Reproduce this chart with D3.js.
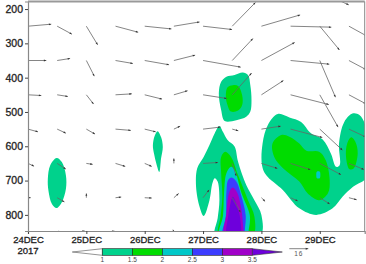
<!DOCTYPE html>
<html>
<head>
<meta charset="utf-8">
<script src="https://cdn.jsdelivr.net/npm/d3@7"></script>
<style>
  html, body { margin: 0; padding: 0; background: #fff; }
  svg { display: block; }
  text { font-family: "Liberation Sans", Arial, sans-serif; }
</style>
</head>
<body>
<div id="chart"></div>
<script>
// Axis labels
var dayTicks = [24, 25, 26, 27, 28, 29];
var dayLabels = ["24DEC", "25DEC", "26DEC", "27DEC", "28DEC", "29DEC"];
var levelTicks = [200, 300, 400, 500, 600, 700, 800];
var yearLabel = "2017";

// Wind vectors, one value per 12 h from 24 DEC 00
var levels = [150, 250, 350, 450, 550, 650, 750, 850];
var uWind = [
  [null, null, null, null, null, null, null, null, null, null, 24.4, null],
  [19.6, 12.4, 9.5, 19.1, 22.5, 21.6, 24.4, 19.6, 32.6, 34.3, 16.6, 15.2],
  [15.4, 10.9, 6.7, 14.6, 20.5, 17.9, 31.7, 17.4, 28, 32.6, 13.2, 14.3],
  [11.2, 9, 6.1, 13.7, 14.6, 11.5, 20, 16.3, 18.5, 32.2, 15.4, 14.3],
  [8.4, 7.3, 7.3, 12.9, 9.3, 5.3, 14.6, 5.1, 16.3, 26.7, 19.1, 14.3],
  [5.1, 7.3, 5.3, 8.2, 5.9, 0, 12.6, 3.4, 13.5, 16.8, 17.9, 12.6],
  [2.3, 6.1, 0, 4.8, 5.9, 4, 5.1, 7, 3.1, 6.1, 8.4, 6.5],
  [null, 1, -3.6, -3, null, -0.8, null, null, null, null, null, null]
];
var vWind = [
  [null, null, null, null, null, null, null, null, null, null, -10.9, null],
  [1.7, -6.7, -15.7, -5.1, -2.3, 3.6, -2.8, 20, 9.5, -0.8, -20, -8.4],
  [0, 1.7, -13.2, -2.5, -3.6, 4.5, -5.6, 18.5, 15.2, -3.1, -30.9, -7.6],
  [-0.6, -1.4, -7.8, 0.8, -3.6, 3.4, -3.1, 18.3, 12, -8.2, -27.2, -7.6],
  [-2.3, -3.4, -4.2, -1.1, -2.3, 2.5, 1.7, -1.4, 2.5, -7, -17.7, -6.7],
  [-2.3, -4.8, -0.8, -2.5, -2.5, 4.2, 0.8, -10.7, -4.2, -5.3, -9.5, -5.1],
  [0, -3.6, 3.6, 0.6, -0.3, 3.6, 6.7, -12.4, -3.1, -2.8, -5.3, -1.7],
  [null, 1, 1, 1, null, 2, null, null, null, null, null, null]
];
var refVector = 16;

// Shaded contours as [day, hPa] outlines
var level1a = [[24.49,634],[24.58,646],[24.65,685],[24.65,724],[24.58,763],[24.49,780],[24.41,768],[24.35,729],[24.34,695],[24.38,656]];
var level1b = [[26.22,556],[26.28,573],[26.31,602],[26.28,636],[26.25,675],[26.20,651],[26.16,622],[26.14,597],[26.17,570]];
var level1c = [[27.68,385],[27.77,392],[27.81,422],[27.83,465],[27.81,499],[27.74,514],[27.57,524],[27.37,526],[27.31,494],[27.27,446],[27.31,412],[27.40,397],[27.54,392]];
var level1d = [[27.28,541],[27.34,558],[27.42,582],[27.54,601],[27.60,645],[27.74,713],[27.88,757],[28.00,800],[27.98,860],[27.21,860],[27.25,810],[27.28,757],[27.25,703],[27.20,693],[27.16,708],[27.11,757],[27.01,803],[26.94,776],[26.88,718],[26.90,664],[27.01,631],[27.11,596],[27.20,562]];
var level1e = [[28.28,506],[28.48,516],[28.68,529],[28.85,562],[29.05,580],[29.19,621],[29.28,660],[29.34,655],[29.33,592],[29.42,529],[29.57,504],[29.68,509],[29.78,538],[29.85,611],[29.82,689],[29.57,718],[29.39,747],[29.22,781],[28.94,800],[28.65,781],[28.37,728],[28.08,684],[28.01,655],[28.02,592],[28.11,538]];
var level15c = [[27.51,422],[27.60,424],[27.67,451],[27.67,480],[27.60,496],[27.48,499],[27.41,475],[27.39,451],[27.42,428]];
var level15d = [[27.38,616],[27.48,631],[27.60,684],[27.77,757],[27.88,805],[27.85,860],[27.27,860],[27.30,805],[27.33,747],[27.31,679],[27.31,631]];
var level15e = [[28.34,567],[28.48,572],[28.65,592],[28.77,613],[28.99,616],[29.10,640],[29.17,698],[29.14,737],[28.99,757],[28.79,737],[28.65,703],[28.37,664],[28.22,631],[28.19,592]];
var level15f = [[29.54,574],[29.61,587],[29.65,621],[29.58,665],[29.51,667],[29.45,631],[29.47,592]];
var level2d = [[27.48,660],[27.54,669],[27.66,737],[27.80,800],[27.79,835],[27.74,860],[27.28,860],[27.34,805],[27.36,737],[27.40,679]];
var level2e = [[28.95,674],[29.0,674],[29.01,684],[29.0,693],[28.95,693],[28.94,684]];
var level25 = [[27.49,691],[27.57,703],[27.66,747],[27.73,800],[27.72,835],[27.69,860],[27.34,860],[27.39,805],[27.40,733],[27.43,698]];
var level3 = [[27.51,720],[27.58,733],[27.65,776],[27.68,820],[27.67,860],[27.37,860],[27.40,796],[27.43,747],[27.47,726]];
var level35 = [[27.51,747],[27.58,771],[27.64,815],[27.63,860],[27.41,860],[27.43,805],[27.47,766]];

// Colour bar
var barLevels = [1, 1.5, 2, 2.5, 3, 3.5];
var barColors = ["#00d28c", "#00dc00", "#00c8c8", "#3c3cff", "#a000c8", "#6e00dc"];

var shapes = [
  {c: 0, outlines: [level1a, level1b, level1c, level1d, level1e]},
  {c: 1, outlines: [level15c, level15d, level15e, level15f]},
  {c: 2, outlines: [level2d, level2e]},
  {c: 3, outlines: [level25]},
  {c: 4, outlines: [level3]},
  {c: 5, outlines: [level35]}
];

var W = 366, H = 264;
var margin = {top: 1.5, right: 1.3, bottom: 33, left: 28};
var width = W - margin.left - margin.right,
    height = H - margin.top - margin.bottom;

var svg = d3.select("#chart").append("svg")
    .attr("width", W)
    .attr("height", H);

var x = d3.scaleLinear().domain([24, 29.77]).range([0, width]);
var y = d3.scaleLinear().domain([178, 847]).range([0, height]);
var vec = d3.scaleLinear().domain([0, refVector]).range([0, 19]);

svg.append("defs").append("clipPath").attr("id", "plot")
  .append("rect").attr("width", width).attr("height", height);

var g = svg.append("g")
    .attr("transform", "translate(" + margin.left + "," + margin.top + ")");
var plot = g.append("g").attr("clip-path", "url(#plot)");

// Contours
var outline = d3.line()
    .x(function(d) { return x(d[0]); })
    .y(function(d) { return y(d[1]); })
    .curve(d3.curveCatmullRomClosed.alpha(0.5));

shapes.forEach(function(s) {
  plot.selectAll(null)
    .data(s.outlines)
    .enter().append("path")
      .attr("d", outline)
      .attr("fill", barColors[s.c]);
});

// Arrows
var arrows = [];
levels.forEach(function(lev, r) {
  uWind[r].forEach(function(u, i) {
    if (u === null) return;
    arrows.push({day: 24 + i * 0.5, lev: lev, u: u, v: vWind[r][i]});
  });
});

function arrowHead(d) {
  var dx = vec(d.u), dy = -vec(d.v);
  var len = Math.sqrt(dx * dx + dy * dy) || 1;
  var ux = dx / len, uy = dy / len;
  var hx = x(d.day) + dx, hy = y(d.lev) + dy;
  var bx = hx - ux * 2.4, by = hy - uy * 2.4;
  return "M" + hx + "," + hy +
    "L" + (bx - uy * 0.9) + "," + (by + ux * 0.9) +
    "L" + (bx + uy * 0.9) + "," + (by - ux * 0.9) + "Z";
}

var arrow = plot.selectAll(".arrow")
    .data(arrows)
    .enter().append("g").attr("class", "arrow");
arrow.append("line")
    .attr("x1", function(d) { return x(d.day); })
    .attr("y1", function(d) { return y(d.lev); })
    .attr("x2", function(d) { return x(d.day) + vec(d.u); })
    .attr("y2", function(d) { return y(d.lev) - vec(d.v); })
    .attr("stroke", "#666")
    .attr("stroke-width", 0.8);
arrow.append("path")
    .attr("d", arrowHead)
    .attr("fill", "#333");

// Axes
var xAxis = g.append("g")
    .attr("transform", "translate(0," + height + ")")
    .call(d3.axisBottom(x).tickValues(dayTicks).tickSize(3).tickPadding(2)
      .tickFormat(function(d, i) { return dayLabels[i]; }));
var yAxis = g.append("g")
    .call(d3.axisLeft(y).tickValues(levelTicks).tickSize(3).tickPadding(2).tickFormat(d3.format("d")));
[xAxis, yAxis].forEach(function(a) {
  a.select(".domain").attr("stroke", "#888").attr("stroke-width", 1.2);
  a.selectAll(".tick line").attr("stroke", "#444").attr("stroke-width", 1);
  a.selectAll("text").attr("fill", "#222").attr("stroke", "#222").attr("stroke-width", 0.3)
    .attr("font-family", "Liberation Sans, Arial, sans-serif");
});
xAxis.selectAll("text").attr("font-size", 9.5);
yAxis.selectAll("text").attr("font-size", 10.5);
g.append("line").attr("x1", 0).attr("x2", width).attr("y1", 0).attr("y2", 0)
    .attr("stroke", "#999").attr("stroke-width", 2);
g.append("line").attr("x1", width).attr("x2", width).attr("y1", 0).attr("y2", height)
    .attr("stroke", "#888").attr("stroke-width", 1);

svg.append("text")
    .attr("x", margin.left)
    .attr("y", 253.5)
    .attr("text-anchor", "middle")
    .attr("font-size", 9.5)
    .attr("fill", "#222")
    .attr("stroke", "#222")
    .attr("stroke-width", 0.3)
    .text(yearLabel);

// Colour bar
var bar = d3.scaleLinear().domain([1, 3.5]).range([102.3, 252.3]);
var barTop = 248.7, barBottom = 255.3, barMid = (barTop + barBottom) / 2;
var barStep = bar(1.5) - bar(1);
var cbar = svg.append("g");

cbar.append("path")
    .attr("d", "M" + (bar(1) - barStep) + "," + barMid + "L" + bar(1) + "," + barTop + "L" + bar(1) + "," + barBottom + "Z")
    .attr("fill", "#fff")
    .attr("stroke", "#666")
    .attr("stroke-width", 0.7);
cbar.selectAll("rect")
    .data(barLevels.slice(0, -1))
    .enter().append("rect")
      .attr("x", function(d) { return bar(d); })
      .attr("y", barTop)
      .attr("width", barStep)
      .attr("height", barBottom - barTop)
      .attr("fill", function(d, i) { return barColors[i]; })
      .attr("stroke", "#222")
      .attr("stroke-width", 0.6);
cbar.append("path")
    .attr("d", "M" + bar(3.5) + "," + barTop + "L" + (bar(3.5) + barStep) + "," + barMid + "L" + bar(3.5) + "," + barBottom + "Z")
    .attr("fill", barColors[5])
    .attr("stroke", "#333")
    .attr("stroke-width", 0.6);
cbar.selectAll(".bar-tick")
    .data(barLevels)
    .enter().append("text")
      .attr("class", "bar-tick")
      .attr("x", function(d) { return bar(d); })
      .attr("y", 262)
      .attr("text-anchor", "middle")
      .attr("font-size", 6.5)
      .attr("fill", "#444")
      .text(function(d) { return d; });

// Reference vector
var refX = 289.3, refY = 248.7;
svg.append("line")
    .attr("x1", refX).attr("y1", refY)
    .attr("x2", refX + vec(refVector)).attr("y2", refY)
    .attr("stroke", "#666")
    .attr("stroke-width", 0.8);
svg.append("path")
    .attr("d", "M" + (refX + vec(refVector)) + "," + refY + "l-2.6,-1v2Z")
    .attr("fill", "#333");
svg.append("text")
    .attr("x", refX + vec(refVector) / 2)
    .attr("y", 255.5)
    .attr("text-anchor", "middle")
    .attr("font-size", 6.5)
    .attr("letter-spacing", 1)
    .attr("fill", "#555")
    .text(refVector);
</script>
</body>
</html>
